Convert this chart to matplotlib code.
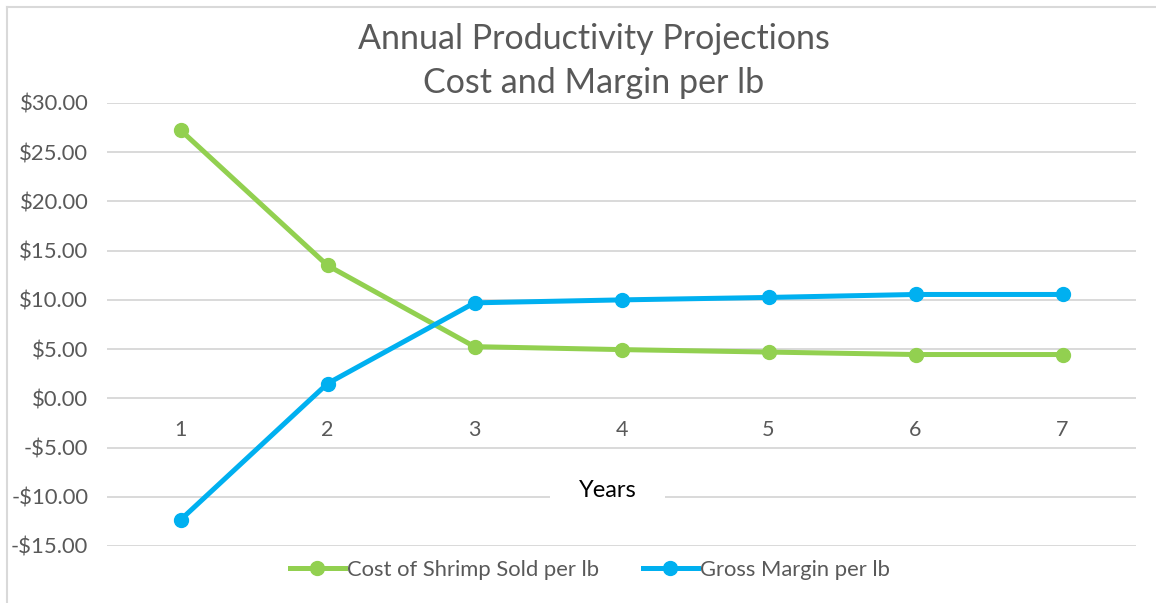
"""Annual productivity projections: cost and margin per lb"""
import matplotlib.pyplot as plt
from matplotlib.lines import Line2D
from matplotlib.ticker import FuncFormatter

plt.rcParams['font.family'] = ['Lato', 'DejaVu Sans']

# Dados
anos = [1, 2, 3, 4, 5, 6, 7]
custo = [27.25, 13.50, 5.25, 4.95, 4.70, 4.45, 4.45]
margem = [-12.35, 1.50, 9.70, 10.00, 10.25, 10.55, 10.55]
nome_custo = "Cost of Shrimp Sold per lb"
nome_margem = "Gross Margin per lb"

verde = '#92D050'
azul = '#00B0F0'
cinza = '#595959'

fig = plt.figure(figsize=(11.56, 6.03), dpi=100)
ax = fig.add_axes([107 / 1156, 1 - 546 / 603, 1029 / 1156, 443 / 603])

ax.plot(anos, custo, color=verde, lw=3.6, marker='o', ms=10, zorder=3,
        solid_capstyle='round', label=nome_custo)
ax.plot(anos, margem, color=azul, lw=3.6, marker='o', ms=10, zorder=3,
        solid_capstyle='round', label=nome_margem)

ax.set_xlim(0.5, 7.5)
ax.set_ylim(-15, 30)
ax.set_yticks(range(-15, 31, 5))
ax.yaxis.set_major_formatter(FuncFormatter(
    lambda v, p: f"${v:.2f}" if v >= 0 else f"-${-v:.2f}"))
ax.grid(axis='y', color='#D9D9D9', lw=1.4)
ax.set_axisbelow(True)
for s in ax.spines.values():
    s.set_visible(False)
ax.tick_params(axis='y', length=0, pad=13.5, labelsize=15.8, labelcolor=cinza)

# rotulos do eixo x perto do zero (estilo Excel)
ax.set_xticks(anos)
ax.set_xticklabels([])
ax.tick_params(axis='x', length=0)
for a in anos:
    ax.annotate(str(a), (a, 0), xytext=(0, -32), textcoords='offset pixels',
                ha='center', va='center', fontsize=15.5, color=cinza)

ax.annotate("Years", (4, -10), xytext=(-14, 6), textcoords='offset pixels',
            ha='center', va='center', fontsize=17, color='black',
            bbox=dict(boxstyle='square,pad=1.2', fc='white', ec='none'),
            zorder=2)

fig.text(594 / 1156, 1 - 61 / 603,
         "Annual Productivity Projections\nCost and Margin per lb",
         ha='center', va='center', fontsize=24.5, color=cinza,
         linespacing=1.45)

handles = [Line2D([], [], color=verde, lw=3.6, marker='o', ms=10),
           Line2D([], [], color=azul, lw=3.6, marker='o', ms=10)]
fig.legend(handles, [nome_custo, nome_margem], loc='center',
           bbox_to_anchor=(590 / 1156, 1 - 570 / 603), ncol=2, frameon=False,
           fontsize=15.8, labelcolor=cinza, handlelength=2.5,
           handletextpad=0.1, columnspacing=2.0)

# borda do grafico
fig.add_artist(Line2D([7 / 1156, 7 / 1156], [0, 1 - 6.5 / 603],
                      transform=fig.transFigure, color='#D9D9D9', lw=1.5))
fig.add_artist(Line2D([7 / 1156, 1], [1 - 6.5 / 603, 1 - 6.5 / 603],
                      transform=fig.transFigure, color='#D9D9D9', lw=1.5))

fig.savefig("out.png", dpi=100)
